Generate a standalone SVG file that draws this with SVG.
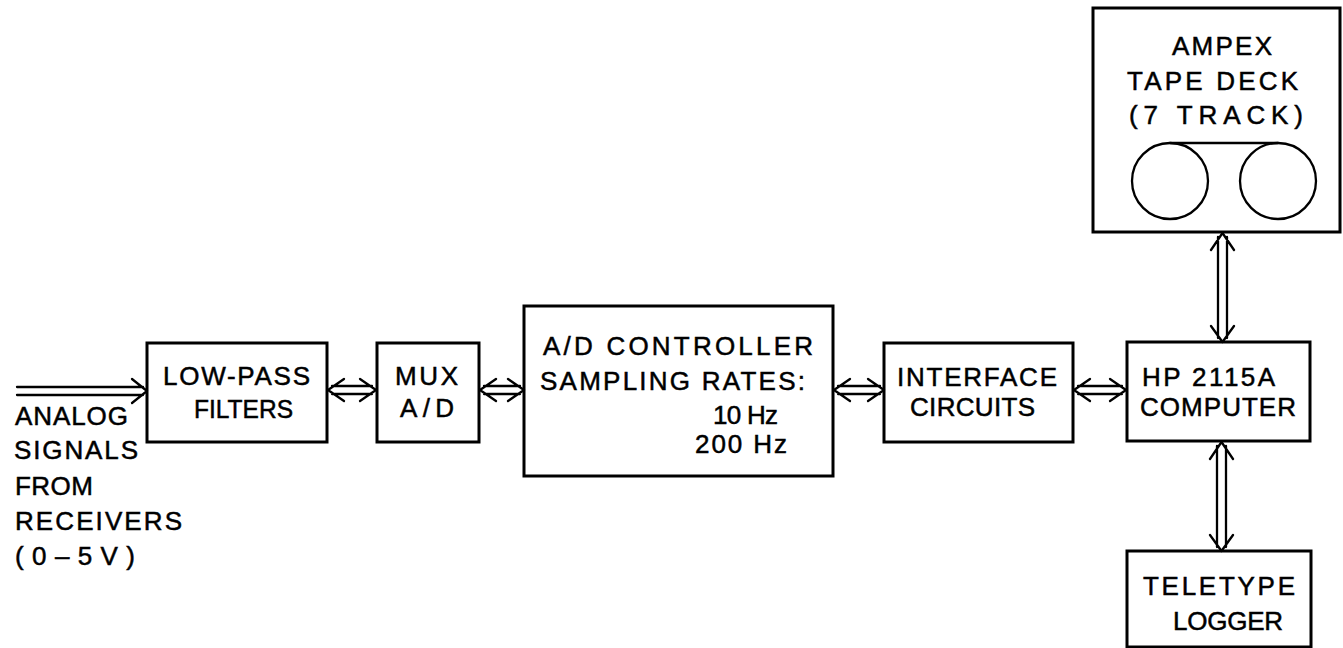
<svg xmlns="http://www.w3.org/2000/svg" width="1343" height="648" viewBox="0 0 1343 648">
<style>
.box{fill:none;stroke:#000;stroke-width:3}
.ln{fill:none;stroke:#000;stroke-width:2.3;stroke-linecap:round;stroke-linejoin:round}
text{font-family:"Liberation Sans",Arial,sans-serif;font-size:26px;fill:#000;stroke:#000;stroke-width:0.5}
</style>
<rect width="1343" height="648" fill="#fff"/>
<g id="connectors">
<!-- input arrow -->
<path class="ln" d="M17,387 H143 M17,395 H143 M132,379 L147,391 L132,403"/>
<!-- LPF - MUX -->
<path class="ln" d="M332,386 H372 M332,394 H372 M344,379 L328,390 L344,401 M360,379 L376,390 L360,401"/>
<!-- MUX - AD -->
<path class="ln" d="M484,386 H520 M484,394 H520 M496,379 L480,390 L496,401 M508,379 L524,390 L508,401"/>
<!-- AD - Interface -->
<path class="ln" d="M838,386 H880 M838,394 H880 M850,379 L834,390 L850,401 M868,379 L884,390 L868,401"/>
<!-- Interface - Computer -->
<path class="ln" d="M1078,386 H1122 M1078,394 H1122 M1090,379 L1074,390 L1090,401 M1110,379 L1126,390 L1110,401"/>
<!-- Ampex - Computer -->
<path class="ln" d="M1218,237 V338 M1227,237 V338 M1211,250 L1222.5,233 L1234,250 M1211,326 L1222.5,342 L1234,326"/>
<!-- Computer - Teletype -->
<path class="ln" d="M1217,446 V547 M1226,446 V547 M1210,459 L1221.5,442 L1233,459 M1210,535 L1221.5,551 L1233,535"/>
</g>
<g id="input-label">
<text x="15" y="425" textLength="113" lengthAdjust="spacing">ANALOG</text>
<text x="14" y="459" textLength="124" lengthAdjust="spacing">SIGNALS</text>
<text x="15" y="495" textLength="78" lengthAdjust="spacing">FROM</text>
<text x="15" y="530" textLength="167" lengthAdjust="spacing">RECEIVERS</text>
<text x="15" y="565" textLength="120" lengthAdjust="spacing">(0–5V)</text>
</g>
<g id="lowpass">
<rect class="box" x="147" y="343" width="180" height="99"/>
<text x="163" y="385" textLength="147" lengthAdjust="spacing">LOW-PASS</text>
<text x="194" y="418" textLength="99" lengthAdjust="spacingAndGlyphs">FILTERS</text>
</g>
<g id="mux">
<rect class="box" x="377" y="343" width="102" height="99"/>
<text x="395" y="385" textLength="63" lengthAdjust="spacing">MUX</text>
<text x="400" y="417" textLength="54" lengthAdjust="spacing">A/D</text>
</g>
<g id="adcontroller">
<rect class="box" x="524" y="306" width="309" height="170"/>
<text x="543" y="355" textLength="270" lengthAdjust="spacing">A/D CONTROLLER</text>
<text x="540" y="390" textLength="265" lengthAdjust="spacing">SAMPLING RATES:</text>
<text x="713" y="424" textLength="65" lengthAdjust="spacing">10 Hz</text>
<text x="695" y="453" textLength="92" lengthAdjust="spacing">200 Hz</text>
</g>
<g id="interface">
<rect class="box" x="884" y="343" width="189" height="99"/>
<text x="897" y="386" textLength="160" lengthAdjust="spacing">INTERFACE</text>
<text x="910" y="416" textLength="125" lengthAdjust="spacing">CIRCUITS</text>
</g>
<g id="computer">
<rect class="box" x="1127" y="342" width="183" height="99"/>
<text x="1142" y="386" textLength="133" lengthAdjust="spacing">HP 2115A</text>
<text x="1140" y="416" textLength="156" lengthAdjust="spacing">COMPUTER</text>
</g>
<g id="teletype">
<rect class="box" x="1127" y="551" width="184" height="96"/>
<text x="1143" y="595" textLength="152" lengthAdjust="spacing">TELETYPE</text>
<text x="1173" y="630" textLength="110" lengthAdjust="spacing">LOGGER</text>
</g>
<g id="ampex">
<rect class="box" x="1093" y="8" width="247" height="224"/>
<text x="1172" y="55" textLength="100" lengthAdjust="spacing">AMPEX</text>
<text x="1127" y="90" textLength="171" lengthAdjust="spacing">TAPE DECK</text>
<text x="1129" y="124" textLength="174" lengthAdjust="spacing">(7 TRACK)</text>
<circle class="ln" cx="1170" cy="181" r="38"/>
<circle class="ln" cx="1278" cy="181" r="38"/>
<line class="ln" x1="1170" y1="143" x2="1278" y2="143"/>
</g>
</svg>
